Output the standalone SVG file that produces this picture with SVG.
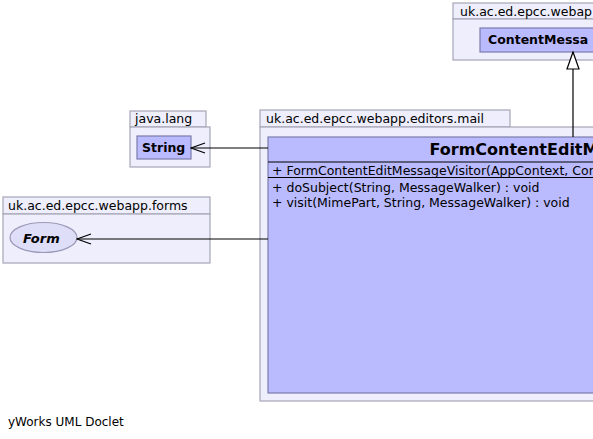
<svg xmlns="http://www.w3.org/2000/svg" width="593" height="439" viewBox="0 0 593 439">
<defs>
<style>
.pkg{fill:#eeeefc;stroke:#a6a6b6;stroke-width:1.2}
.cls{fill:#babaff;stroke:#7c7cac;stroke-width:1.2}
.ptxt{font-family:"DejaVu Sans",sans-serif;font-size:12.5px;fill:#000}
.ctxt{font-family:"DejaVu Sans",sans-serif;font-size:12.5px;font-weight:bold;fill:#000}
.ititle{font-family:"DejaVu Sans",sans-serif;font-size:13px;font-weight:bold;font-style:italic;fill:#000}
.title{font-family:"DejaVu Sans",sans-serif;font-size:16px;font-weight:bold;fill:#000}
.mtxt{font-family:"DejaVu Sans",sans-serif;font-size:12.5px;fill:#000}
.foot{font-family:"DejaVu Sans",sans-serif;font-size:12px;fill:#000}
.edge{fill:none;stroke:#000;stroke-width:1.2}
</style>
<marker id="open" markerWidth="16" markerHeight="12" refX="15" refY="6" orient="auto" markerUnits="userSpaceOnUse">
<path d="M1,1 L15,6 L1,11" fill="none" stroke="#000" stroke-width="1.2"/>
</marker>
<marker id="inh" markerWidth="19" markerHeight="14" refX="18" refY="7" orient="auto" markerUnits="userSpaceOnUse">
<path d="M18,7 L1,1 L1,13 Z" fill="#fff" stroke="#000" stroke-width="1.2"/>
</marker>
</defs>
<rect width="593" height="439" fill="#fff"/>

<g id="pkg-top">
<rect class="pkg" x="453" y="3" width="150" height="16"/>
<rect class="pkg" x="453" y="19" width="150" height="41"/>
<text class="ptxt" x="460" y="16">uk.ac.ed.epcc.webap</text>
</g>
<g id="ContentMessageVisitor">
<rect class="cls" x="480" y="28" width="130" height="24"/>
<text class="ctxt" x="488" y="44">ContentMessa</text>
</g>

<g id="pkg-java-lang">
<rect class="pkg" x="130" y="111" width="76" height="16"/>
<rect class="pkg" x="130" y="127" width="80" height="40"/>
<text class="ptxt" x="135" y="123">java.lang</text>
</g>
<g id="String">
<rect class="cls" x="137" y="136" width="54" height="23"/>
<text class="ctxt" x="142" y="152">String</text>
</g>

<g id="pkg-forms">
<rect class="pkg" x="3" y="197" width="207" height="17"/>
<rect class="pkg" x="3" y="214" width="207" height="49"/>
<text class="ptxt" x="8" y="210">uk.ac.ed.epcc.webapp.forms</text>
</g>
<g id="Form">
<ellipse cx="43.5" cy="237.5" rx="33.5" ry="15" fill="#dedef8" stroke="#9a9ab8" stroke-width="1.2"/>
<text class="ititle" x="23" y="243">Form</text>
</g>

<g id="pkg-mail">
<rect class="pkg" x="260" y="110" width="250" height="17"/>
<rect class="pkg" x="260" y="127" width="350" height="274"/>
<text class="ptxt" x="266" y="123">uk.ac.ed.epcc.webapp.editors.mail</text>
</g>
<g id="FormContentEditMessageVisitor">
<rect class="cls" x="268" y="137" width="340" height="256"/>
<line x1="268" y1="162" x2="608" y2="162" stroke="#000" stroke-width="1.2"/>
<line x1="268" y1="177.5" x2="608" y2="177.5" stroke="#000" stroke-width="1.2"/>
<text class="title" x="429.5" y="155">FormContentEditM</text>
<text class="mtxt" x="272" y="175">+ FormContentEditMessageVisitor(AppContext, Con</text>
<text class="mtxt" x="272" y="192">+ doSubject(String, MessageWalker) : void</text>
<text class="mtxt" x="272" y="207">+ visit(MimePart, String, MessageWalker) : void</text>
</g>

<g id="connectors">
<path class="edge" d="M573,137 L573,52" marker-end="url(#inh)"/>
<path class="edge" d="M268,148 L191,148" marker-end="url(#open)"/>
<path class="edge" d="M268,239 L77,239" marker-end="url(#open)"/>
</g>

<text class="foot" x="8" y="426">yWorks UML Doclet</text>
</svg>
